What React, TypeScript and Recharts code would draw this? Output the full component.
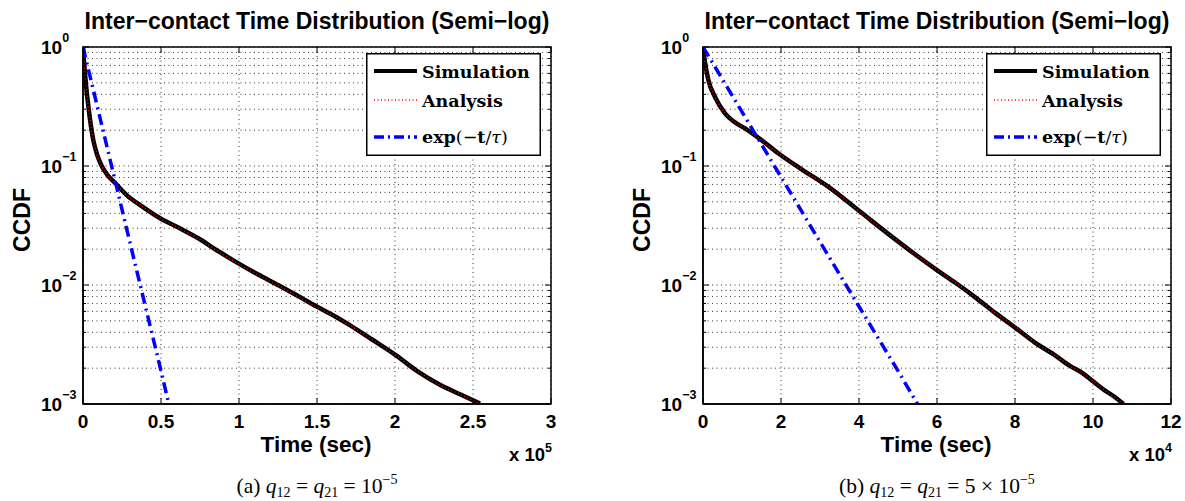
import { LineChart, Line, XAxis, YAxis, CartesianGrid, ReferenceArea } from 'recharts';

// panel (a): q12 = q21 = 1e-5
const simTimesA = [0, 500, 1300, 2000, 3400, 6600, 9000, 12000, 16000, 20500, 28000, 37600, 50000, 62000, 73900, 86000, 99600, 112000, 125000, 137000, 149800, 160000, 171000, 185000, 200000, 214000, 228800, 242000, 254500];
const simValuesA = [1, 0.8, 0.6, 0.47, 0.32, 0.165, 0.125, 0.1, 0.083, 0.072, 0.057, 0.046, 0.036, 0.03, 0.0247, 0.0195, 0.0152, 0.0123, 0.01, 0.0082, 0.0066, 0.0056, 0.0046, 0.0035, 0.0026, 0.0019, 0.00145, 0.0012, 0.00101];
const anaValuesA = [1, 0.79, 0.6, 0.47, 0.32, 0.166, 0.125, 0.1, 0.083, 0.071, 0.057, 0.046, 0.036, 0.0298, 0.0246, 0.0194, 0.0151, 0.0122, 0.0099, 0.0081, 0.0065, 0.0056, 0.0046, 0.0035, 0.0026, 0.0019, 0.00144, 0.0012, 0.001];
const expTimesA = [0, 10000, 20000, 30000, 40000, 50000, 55000];
const expValuesA = [1, 0.285, 0.081, 0.023, 0.0066, 0.0019, 0.001];
const xTicksA = [0, 50000, 100000, 150000, 200000, 250000, 300000];
const xLabelsA = ['0', '0.5', '1', '1.5', '2', '2.5', '3'];

// panel (b): q12 = q21 = 5e-5
const simTimesB = [0, 500, 1360, 3080, 5640, 8000, 10770, 15000, 19300, 25000, 32100, 40000, 48400, 54000, 59900, 65000, 70000, 75000, 80400, 85000, 90000, 94000, 97500, 100000, 103000, 105500, 107800];
const simValuesB = [1, 0.75, 0.53, 0.38, 0.277, 0.235, 0.207, 0.165, 0.128, 0.095, 0.067, 0.042, 0.0255, 0.0185, 0.0134, 0.0103, 0.0078, 0.0058, 0.0043, 0.0033, 0.0026, 0.0021, 0.0018, 0.00155, 0.0013, 0.00115, 0.001];
const anaValuesB = [1, 0.75, 0.53, 0.38, 0.278, 0.236, 0.207, 0.164, 0.128, 0.095, 0.067, 0.0418, 0.0256, 0.0186, 0.0135, 0.0103, 0.0078, 0.0058, 0.0044, 0.0033, 0.0026, 0.0021, 0.0018, 0.00156, 0.0013, 0.00114, 0.001];
const expTimesB = [0, 10000, 20000, 30000, 40000, 50000, 55000];
const expValuesB = [1, 0.285, 0.081, 0.023, 0.0066, 0.0019, 0.001];
const xTicksB = [0, 20000, 40000, 60000, 80000, 100000, 120000];
const xLabelsB = ['0', '2', '4', '6', '8', '10', '12'];

const yTicks = [
  0.001, 0.002, 0.003, 0.004, 0.005, 0.006, 0.007, 0.008, 0.009,
  0.01, 0.02, 0.03, 0.04, 0.05, 0.06, 0.07, 0.08, 0.09,
  0.1, 0.2, 0.3, 0.4, 0.5, 0.6, 0.7, 0.8, 0.9, 1,
];

const zip = (ts: number[], vs: number[]) => ts.map((t, i) => ({ t, v: vs[i] }));

const SANS = "'Liberation Sans', Arial, Helvetica, sans-serif";
const SERIF = "'DejaVu Serif', serif";
const CAP_SERIF = "'Liberation Serif', 'Times New Roman', serif";
const PLOT_W = 468;
const PLOT_H = 357;

const YTick = (props: any) => {
  const { x, y, payload } = props;
  const lg = Math.log10(payload.value);
  const e = Math.round(lg);
  const major = Math.abs(lg - e) < 1e-6;
  const len = major ? 6 : 3;
  return (
    <g>
      <line x1={x} x2={x + len} y1={y} y2={y} stroke="#000" strokeWidth={1} />
      <line x1={x + PLOT_W} x2={x + PLOT_W - len} y1={y} y2={y} stroke="#000" strokeWidth={1} />
      {major && (
        <text x={x - 42} y={y + 7} fontFamily={SANS} fontWeight="bold" fontSize={19} fill="#000">
          10
          <tspan dy={-12.5} fontSize={12.5}>{e === 0 ? '0' : '\u2212' + -e}</tspan>
        </text>
      )}
    </g>
  );
};

const makeXTick = (ticks: number[], labels: string[]) => (props: any) => {
  const { x, y, payload } = props;
  const label = labels[ticks.indexOf(payload.value)];
  return (
    <g>
      <line x1={x} x2={x} y1={y} y2={y - 6} stroke="#000" strokeWidth={1} />
      <line x1={x} x2={x} y1={y - PLOT_H} y2={y - PLOT_H + 6} stroke="#000" strokeWidth={1} />
      <text x={x} y={y + 24} textAnchor="middle" fontFamily={SANS} fontWeight="bold" fontSize={19} fill="#000">
        {label}
      </text>
    </g>
  );
};

const LegendBox = () => (
  <svg width={175} height={103} style={{ position: 'absolute', left: 366, top: 53 }}>
    <rect x={0.75} y={0.75} width={173.5} height={101.5} fill="#fff" stroke="#000" strokeWidth={1.5} />
    <line x1={8} x2={51} y1={18} y2={18} stroke="#000" strokeWidth={4} />
    <line x1={8} x2={51} y1={47} y2={47} stroke="#ff0000" strokeWidth={1.5} strokeDasharray="1 2.5" />
    <line x1={8} x2={51} y1={84} y2={84} stroke="#0000ff" strokeWidth={3.5} strokeDasharray="10 4 2 4" />
    <text x={56} y={24.5} fontFamily={SERIF} fontWeight="bold" fontSize={17.5}>Simulation</text>
    <text x={56} y={53.5} fontFamily={SERIF} fontWeight="bold" fontSize={17.5}>Analysis</text>
    <text x={56} y={89.5} fontFamily={SERIF} fontSize={17.5}>
      <tspan fontWeight="bold">exp</tspan>
      <tspan>(−</tspan>
      <tspan fontWeight="bold">t</tspan>
      <tspan>/</tspan>
      <tspan fontStyle="italic">τ</tspan>
      <tspan>)</tspan>
    </text>
  </svg>
);

const abs = (l: number, t: number): any => ({ position: 'absolute', left: l, top: t, whiteSpace: 'nowrap', lineHeight: 1 });

interface PanelProps {
  left: number;
  sim: { t: number; v: number }[];
  ana: { t: number; v: number }[];
  exp: { t: number; v: number }[];
  xTicks: number[];
  xLabels: string[];
  power: string;
  caption: any;
}

const Panel = ({ left, sim, ana, exp, xTicks, xLabels, power, caption }: PanelProps) => {
  const xMax = xTicks[xTicks.length - 1];
  return (
    <div style={{ position: 'absolute', left, top: 0, width: 565, height: 501 }}>
      <LineChart width={565} height={501} margin={{ top: 47, right: 14, bottom: 67, left: 23 }}>
        <CartesianGrid stroke="#222" strokeWidth={0.9} strokeDasharray="1 3.5" />
        <XAxis
          type="number"
          dataKey="t"
          domain={[0, xMax]}
          ticks={xTicks}
          interval={0}
          allowDataOverflow
          height={30}
          tickSize={0}
          tickMargin={0}
          tickLine={false}
          axisLine={{ stroke: '#000', strokeWidth: 1.5 }}
          tick={makeXTick(xTicks, xLabels)}
        />
        <YAxis
          type="number"
          scale="log"
          domain={[0.001, 1]}
          ticks={yTicks}
          interval={0}
          allowDataOverflow
          width={60}
          tickSize={0}
          tickMargin={0}
          tickLine={false}
          axisLine={{ stroke: '#000', strokeWidth: 1.5 }}
          tick={YTick}
        />
        <ReferenceArea x1={0} x2={xMax} y1={0.001} y2={1} fill="none" stroke="#000" strokeWidth={1.5} />
        <Line data={sim} dataKey="v" type="monotone" stroke="#000" strokeWidth={4.5} dot={false} isAnimationActive={false} />
        <Line data={ana} dataKey="v" type="monotone" stroke="#ff0000" strokeWidth={1.5} strokeDasharray="1 2.5" dot={false} isAnimationActive={false} />
        <Line data={exp} dataKey="v" type="linear" stroke="#0000ff" strokeWidth={3.5} strokeDasharray="11 5 2 5" dot={false} isAnimationActive={false} />
      </LineChart>
      <LegendBox />
      <div style={{ ...abs(317, 20.5), transform: 'translate(-50%, -50%)', fontFamily: SANS, fontWeight: 'bold', fontSize: 23 }}>
        Inter−contact Time Distribution (Semi−log)
      </div>
      <div style={{ ...abs(22, 220), transform: 'translate(-50%, -50%) rotate(-90deg)', fontFamily: SANS, fontWeight: 'bold', fontSize: 23 }}>
        CCDF
      </div>
      <div style={{ ...abs(316, 445), transform: 'translate(-50%, -50%)', fontFamily: SANS, fontWeight: 'bold', fontSize: 22.5 }}>
        Time (sec)
      </div>
      <div style={{ position: 'absolute', right: 565 - 552, top: 446, whiteSpace: 'nowrap', fontFamily: SANS, fontWeight: 'bold', fontSize: 18.5, lineHeight: 1 }}>
        x 10<sup style={{ fontSize: 12.5, verticalAlign: 0, position: 'relative', top: -9 }}>{power}</sup>
      </div>
      <div style={{ ...abs(317, 487), transform: 'translate(-50%, -50%)', fontFamily: CAP_SERIF, fontSize: 21.5 }}>
        {caption}
      </div>
    </div>
  );
};

const sub = (s: string) => <sub style={{ fontSize: 14, verticalAlign: 0, position: 'relative', top: 4 }}>{s}</sub>;
const sup = (s: string) => <sup style={{ fontSize: 14, verticalAlign: 0, position: 'relative', top: -9 }}>{s}</sup>;

const App = () => (
  <div style={{ position: 'absolute', left: 0, top: 0, width: 1185, height: 501, background: '#fff', overflow: 'hidden' }}>
    <Panel
      left={0}
      sim={zip(simTimesA, simValuesA)}
      ana={zip(simTimesA, anaValuesA)}
      exp={zip(expTimesA, expValuesA)}
      xTicks={xTicksA}
      xLabels={xLabelsA}
      power="5"
      caption={<>(a) <i>q</i>{sub('12')} = <i>q</i>{sub('21')} = 10{sup('−5')}</>}
    />
    <Panel
      left={620}
      sim={zip(simTimesB, simValuesB)}
      ana={zip(simTimesB, anaValuesB)}
      exp={zip(expTimesB, expValuesB)}
      xTicks={xTicksB}
      xLabels={xLabelsB}
      power="4"
      caption={<>(b) <i>q</i>{sub('12')} = <i>q</i>{sub('21')} = 5 × 10{sup('−5')}</>}
    />
  </div>
);

export default App;
